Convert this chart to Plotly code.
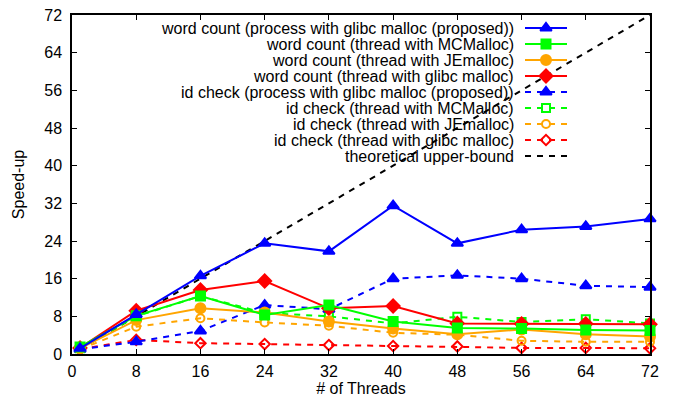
import plotly.graph_objects as go

threads = [1, 8, 16, 24, 32, 40, 48, 56, 64, 72]

wc_process_glibc = [1.2, 8.4, 16.6, 23.5, 21.8, 31.5, 23.5, 26.4, 27.1, 28.7]
wc_thread_mcmalloc = [1.5, 8.1, 12.3, 8.3, 10.4, 6.9, 5.5, 5.4, 5.1, 5.0]
wc_thread_jemalloc = [1.2, 7.2, 9.7, 8.8, 6.9, 5.4, 4.2, 5.2, 4.2, 3.7]
wc_thread_glibc = [1.3, 9.2, 13.6, 15.5, 9.7, 10.2, 6.5, 6.4, 6.4, 6.3]
id_process_glibc = [1.0, 2.6, 4.9, 10.4, 9.5, 16.0, 16.7, 16.0, 14.5, 14.2]
id_thread_mcmalloc = [1.2, 8.0, 12.3, 8.7, 8.0, 6.5, 7.9, 6.8, 7.4, 6.5]
id_thread_jemalloc = [1.0, 5.8, 7.6, 6.7, 6.0, 4.5, 4.1, 2.8, 2.6, 2.6]
id_thread_glibc = [1.0, 3.0, 2.3, 2.1, 1.9, 1.7, 1.6, 1.3, 1.3, 1.2]
upper_x = [1, 72]
upper_y = [1, 72]

names = [
    "word count (process with glibc malloc (proposed))",
    "word count (thread with MCMalloc)",
    "word count (thread with JEmalloc)",
    "word count (thread with glibc malloc)",
    "id check (process with glibc malloc (proposed))",
    "id check (thread with MCMalloc)",
    "id check (thread with JEmalloc)",
    "id check (thread with glibc malloc)",
    "theoretical upper-bound",
]

BLUE, GREEN, ORANGE, RED, BLACK = "#0000ff", "#00ff00", "#ffa500", "#ff0000", "#000000"
DASH = "6px,6px"

styles = [
    dict(color=BLUE, symbol="triangle-up", dash="solid", size=10),
    dict(color=GREEN, symbol="square", dash="solid", size=9),
    dict(color=ORANGE, symbol="circle", dash="solid", size=10),
    dict(color=RED, symbol="diamond", dash="solid", size=10),
    dict(color=BLUE, symbol="triangle-up", dash=DASH, size=10),
    dict(color=GREEN, symbol="square-open", dash=DASH, size=8),
    dict(color=ORANGE, symbol="circle-open", dash=DASH, size=8),
    dict(color=RED, symbol="diamond-open", dash=DASH, size=8),
    dict(color=BLACK, symbol=None, dash=DASH, size=0),
]

series = [
    (threads, wc_process_glibc),
    (threads, wc_thread_mcmalloc),
    (threads, wc_thread_jemalloc),
    (threads, wc_thread_glibc),
    (threads, id_process_glibc),
    (threads, id_thread_mcmalloc),
    (threads, id_thread_jemalloc),
    (threads, id_thread_glibc),
    (upper_x, upper_y),
]

FONT = "Liberation Sans, Arial, sans-serif"
FS = 16

fig = go.Figure()

for (xs, ys), name, st in reversed(list(zip(series, names, styles))):
    mode = "lines" if st["symbol"] is None else "lines+markers"
    marker = dict(color=st["color"], symbol=st["symbol"] or "circle", size=st["size"],
                  line=dict(color=st["color"], width=2))
    fig.add_trace(go.Scatter(x=xs, y=ys, mode=mode, name=name,
                             line=dict(color=st["color"], width=2, dash=st["dash"]),
                             marker=marker, showlegend=False, cliponaxis=False))

# manual legend (gnuplot style: right-aligned text, key sample on the right)
PW, PH = 578, 339
key_x0, key_x1, key_xm = 453, 495, 474
text_x = 444
row0, row_step = 326, 16
for i, (name, st) in enumerate(zip(names, styles)):
    yy = row0 - i * row_step
    fig.add_trace(go.Scatter(x=[key_x0, key_x1], y=[yy, yy], mode="lines",
                             line=dict(color=st["color"], width=2, dash=st["dash"]),
                             xaxis="x2", yaxis="y2", showlegend=False, hoverinfo="skip"))
    if st["symbol"] is not None:
        fig.add_trace(go.Scatter(x=[key_xm], y=[yy], mode="markers",
                                 marker=dict(color=st["color"], symbol=st["symbol"], size=st["size"],
                                             line=dict(color=st["color"], width=2)),
                                 xaxis="x2", yaxis="y2", showlegend=False, hoverinfo="skip"))
    fig.add_annotation(x=text_x, y=yy, xref="x2", yref="y2", text=name, showarrow=False,
                       xanchor="right", yanchor="middle",
                       font=dict(size=FS, color="black", family=FONT))

axis_common = dict(showgrid=False, zeroline=False, showline=True, linecolor="black",
                   linewidth=1.5, mirror="ticks", ticks="inside", ticklen=5,
                   tickcolor="black", tickwidth=1, automargin=False,
                   ticklabeloverflow="allow",
                   tickfont=dict(size=FS, color="black", family=FONT))

fig.update_layout(
    width=675, height=394,
    margin=dict(l=64, r=33, t=7, b=48, autoexpand=False),
    paper_bgcolor="white", plot_bgcolor="white",
    font=dict(family=FONT, size=FS, color="black"),
    xaxis=dict(range=[0, 72], tickmode="array", tickvals=list(range(0, 73, 8)),
               ticklabelstandoff=2,
               title=dict(text="# of Threads", standoff=4, font=dict(size=FS)), **axis_common),
    yaxis=dict(range=[0, 72], tickmode="array", tickvals=list(range(0, 73, 8)),
               ticklabelstandoff=5,
               title=dict(text="Speed-up", standoff=16, font=dict(size=FS)), **axis_common),
    xaxis2=dict(range=[0, PW], overlaying="x", visible=False, fixedrange=True),
    yaxis2=dict(range=[0, PH], overlaying="y", visible=False, fixedrange=True),
    showlegend=False,
)

fig.write_html("out.html")
